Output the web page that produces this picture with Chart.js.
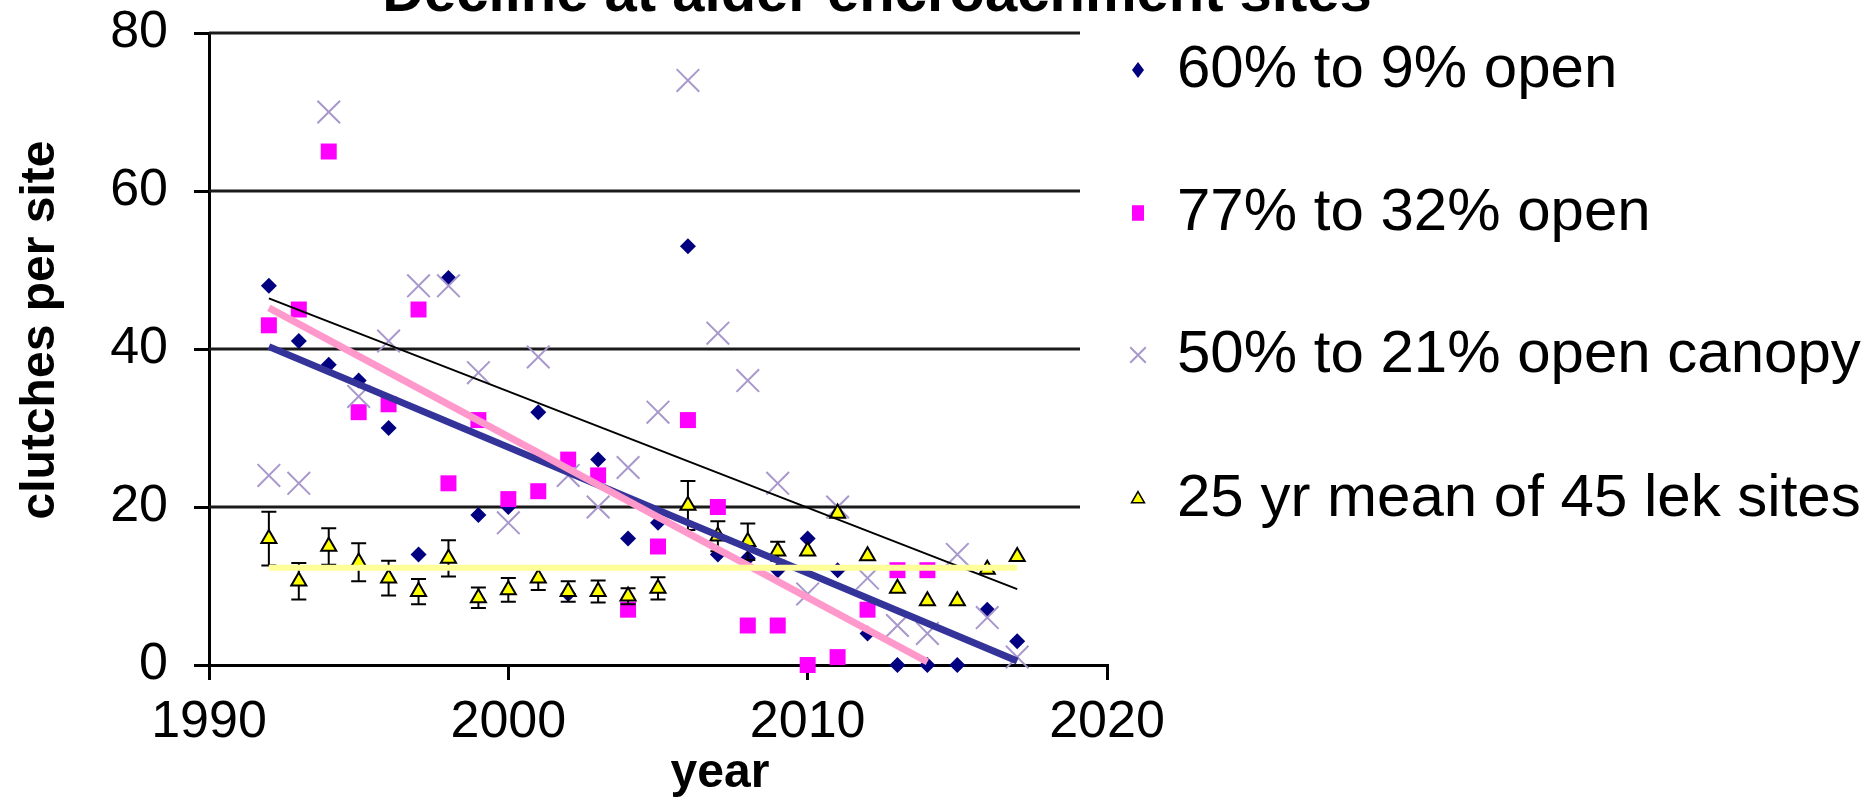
<!DOCTYPE html>
<html>
<head>
<meta charset="utf-8">
<title>Decline at alder encroachment sites</title>
<script src="https://cdn.jsdelivr.net/npm/chart.js@4.4.1/dist/chart.umd.min.js"></script>
<style>
  html, body { margin: 0; padding: 0; background: #ffffff; }
  canvas { display: block; }
</style>
</head>
<body>
<canvas id="chart" width="1868" height="800"></canvas>
<script>
// Survey years
const years = [1992, 1993, 1994, 1995, 1996, 1997, 1998, 1999, 2000, 2001, 2002, 2003, 2004,
               2005, 2006, 2007, 2008, 2009, 2010, 2011, 2012, 2013, 2014, 2015, 2016, 2017];

// Clutches per site, one value per year (null = no count)
const open60to9 = [48, 41, 38, 36, 30, 14, 49, 19, 20, 32, 9, 26, 16,
                   18, 53, 14, 13.5, 12, 16, 12, 4, 0, 0, 0, 7, 3];
const open77to32 = [43, 45, 65, 32, 33, 45, 23, 31, 21, 22, 26, 24, 7,
                    15, 31, 20, 5, 5, 0, 1, 7, 12, 12, null, null, null];
const canopy50to21 = [24, 23, 70, 34, 41, 48, 48, 37, 18, 39, 24, 20, 25,
                      32, 74, 42, 36, 23, 9, 20, 11, 5, 4, 14, 6, 1];
const lekMean = [16, 10.6, 15, 13, 11, 9.3, 13.5, 8.5, 9.5, 11, 9.3, 9.3, 8.7,
                 9.7, 20.2, 16.3, 15.6, 14.4, 14.4, 19.2, 13.8, 9.7, 8.1, 8.1, 12.1, 13.7];
const lekMeanErr = [3.4, 2.3, 2.3, 2.4, 2.2, 1.6, 2.3, 1.3, 1.5, 1.5, 1.3, 1.4, 1.0,
                    1.4, 3.1, 1.9, 2.3, 1.2, 0, 0, 0, 0, 0, 0, 0, 0];

// Linear trend lines: [start year, end year] and [start value, end value]
const trend60to9Years = [1992, 2017];
const trend60to9Values = [40.3, 0.5];
const trend77to32Years = [1992, 2014];
const trend77to32Values = [45.2, 0.4];
const trend50to21Years = [1992, 2017];
const trend50to21Values = [46.4, 9.6];
const lekMeanLineYears = [1992, 2017];
const lekMeanLineValues = [12.3, 12.3];

// Axis ticks
const xTicks = [1990, 2000, 2010, 2020];
const yTicks = [0, 20, 40, 60, 80];

const FONT = '"Liberation Sans", Arial, Helvetica, sans-serif';

function toPoints(xs, ys) {
  const out = [];
  xs.forEach((x, i) => { if (ys[i] !== null && ys[i] !== undefined) out.push({ x: x, y: ys[i] }); });
  return out;
}

// Horizontal grid lines (stop short of the right end of the x axis)
const gridPlugin = {
  id: 'shortGrid',
  beforeDatasetsDraw(chart) {
    const { ctx, chartArea, scales } = chart;
    const yScale = scales.y;
    const right = chartArea.right - 27;
    ctx.save();
    ctx.strokeStyle = '#1a1a1a';
    ctx.lineWidth = 3;
    yTicks.forEach(v => {
      if (v <= 0) return;
      const py = Math.round(yScale.getPixelForValue(v));
      ctx.beginPath();
      ctx.moveTo(chartArea.left, py);
      ctx.lineTo(right, py);
      ctx.stroke();
    });
    ctx.restore();
  }
};

// Error bars for the lek-site means, drawn just beneath their triangles
const errorBarPlugin = {
  id: 'errorBars',
  beforeDatasetDraw(chart, args) {
    const ds = chart.data.datasets[args.index];
    if (!ds.errors) return;
    const { ctx, scales } = chart;
    const cap = 7.5;
    ctx.save();
    ctx.strokeStyle = '#000000';
    ctx.lineWidth = 2;
    ds.data.forEach((p, i) => {
      const e = ds.errors[i];
      if (!e) return;
      const px = scales.x.getPixelForValue(p.x);
      const top = scales.y.getPixelForValue(p.y + e);
      const bot = scales.y.getPixelForValue(p.y - e);
      ctx.beginPath();
      ctx.moveTo(px, top); ctx.lineTo(px, bot);
      ctx.moveTo(px - cap, top); ctx.lineTo(px + cap, top);
      ctx.moveTo(px - cap, bot); ctx.lineTo(px + cap, bot);
      ctx.stroke();
    });
    ctx.restore();
  }
};

// Title, axis titles and the legend column on the right
const labelsPlugin = {
  id: 'chartLabels',
  afterDraw(chart, args, opts) {
    const { ctx } = chart;
    ctx.save();
    ctx.fillStyle = '#000000';

    ctx.font = 'bold 58px ' + FONT;
    ctx.textAlign = 'center';
    ctx.textBaseline = 'alphabetic';
    ctx.fillText(opts.title, 877, 11);

    ctx.font = 'bold 48px ' + FONT;
    ctx.textBaseline = 'middle';
    ctx.fillText(opts.xTitle, 720, 774);

    ctx.save();
    ctx.translate(41, 330);
    ctx.rotate(-Math.PI / 2);
    ctx.fillText(opts.yTitle, 0, 0);
    ctx.restore();

    // legend
    const rows = [70, 213, 355, 499];
    const markerX = 1138;
    const textX = 1177;
    const drawLegendPoint = Chart.helpers.drawPointLegend || ((c, o, x, y) => Chart.helpers.drawPoint(c, o, x, y));
    chart.data.datasets.filter(d => d.inLegend).forEach((d, i) => {
      const y = rows[i];
      ctx.save();
      ctx.fillStyle = d.pointBackgroundColor || d.backgroundColor;
      ctx.strokeStyle = d.pointBorderColor || d.borderColor;
      ctx.lineWidth = d.legendBorder;
      drawLegendPoint(ctx, {
        pointStyle: d.pointStyle, rotation: 0,
        radius: d.legendRadius, borderWidth: d.legendBorder
      }, markerX, y, d.legendWidth);
      ctx.restore();
      ctx.font = '60px ' + FONT;
      ctx.textAlign = 'left';
      ctx.textBaseline = 'middle';
      ctx.fillStyle = '#000000';
      ctx.fillText(d.label, textX, y);
    });
    ctx.restore();
  }
};

const chart = new Chart(document.getElementById('chart'), {
  type: 'scatter',
  data: {
    datasets: [
      {
        label: '60% to 9% open',
        data: toPoints(years, open60to9),
        pointStyle: 'rectRot', pointRadius: 8,
        backgroundColor: '#000080', borderColor: '#000080', borderWidth: 0,
        order: 4, inLegend: true, legendRadius: 8, legendWidth: 12, legendBorder: 0
      },
      {
        label: '77% to 32% open',
        data: toPoints(years, open77to32),
        pointStyle: 'rect', pointRadius: 11.3,
        backgroundColor: '#ff00ff', borderColor: '#ff00ff', borderWidth: 0,
        order: 3, inLegend: true, legendRadius: 11, legendWidth: 12, legendBorder: 0
      },
      {
        label: '50% to 21% open canopy',
        data: toPoints(years, canopy50to21),
        pointStyle: 'crossRot', pointRadius: 16,
        backgroundColor: '#a898cc', borderColor: '#a898cc', borderWidth: 2,
        order: 2, inLegend: true, legendRadius: 11, legendWidth: 0, legendBorder: 2
      },
      {
        label: '25 yr mean of 45 lek sites',
        data: toPoints(years, lekMean),
        errors: lekMeanErr,
        pointStyle: 'triangle', pointRadius: 8.7,
        backgroundColor: '#ffff00', borderColor: '#000000', borderWidth: 2,
        order: 1, inLegend: true, legendRadius: 7.5, legendWidth: 0, legendBorder: 1.5
      },
      {
        type: 'line', label: 'trend 60% to 9% open',
        data: toPoints(trend60to9Years, trend60to9Values),
        borderColor: '#333399', borderWidth: 7, pointRadius: 0, fill: false, order: -1
      },
      {
        type: 'line', label: 'trend 77% to 32% open',
        data: toPoints(trend77to32Years, trend77to32Values),
        borderColor: '#ff99cc', borderWidth: 7, pointRadius: 0, fill: false, order: -2
      },
      {
        type: 'line', label: 'trend 50% to 21% open canopy',
        data: toPoints(trend50to21Years, trend50to21Values),
        borderColor: '#000000', borderWidth: 2, pointRadius: 0, fill: false, order: -3
      },
      {
        type: 'line', label: 'mean of lek sites',
        data: toPoints(lekMeanLineYears, lekMeanLineValues),
        borderColor: '#ffff99', borderWidth: 6, pointRadius: 0, fill: false, order: -4
      }
    ]
  },
  options: {
    responsive: false,
    animation: false,
    devicePixelRatio: 1,
    clip: false,
    layout: { padding: { left: 0, top: 33, right: 761, bottom: 0 } },
    plugins: {
      legend: { display: false },
      tooltip: { enabled: false },
      chartLabels: {
        title: 'Decline at alder encroachment sites',
        xTitle: 'year',
        yTitle: 'clutches per site'
      }
    },
    scales: {
      x: {
        type: 'linear', min: xTicks[0], max: xTicks[xTicks.length - 1],
        afterBuildTicks: s => { s.ticks = xTicks.map(v => ({ value: v })); },
        ticks: {
          color: '#000000', font: { family: FONT, size: 52 }, padding: 11,
          maxRotation: 0, autoSkip: false, callback: v => String(v)
        },
        grid: { drawOnChartArea: false, drawTicks: true, tickLength: 15, color: '#000000', lineWidth: 3 },
        border: { display: true, color: '#000000', width: 3 },
        afterFit: s => { s.height = 135; s.paddingLeft = 0; s.paddingRight = 0; }
      },
      y: {
        type: 'linear', min: yTicks[0], max: yTicks[yTicks.length - 1],
        afterBuildTicks: s => { s.ticks = yTicks.map(v => ({ value: v })); },
        ticks: {
          color: '#000000', font: { family: FONT, size: 52 }, padding: 26,
          autoSkip: false, callback: v => String(v)
        },
        grid: { drawOnChartArea: false, drawTicks: true, tickLength: 15, color: '#000000', lineWidth: 3 },
        border: { display: true, color: '#000000', width: 3 },
        afterFit: s => { s.width = 209; s.paddingTop = 0; s.paddingBottom = 0; }
      }
    }
  },
  plugins: [gridPlugin, errorBarPlugin, labelsPlugin]
});
</script>
</body>
</html>
